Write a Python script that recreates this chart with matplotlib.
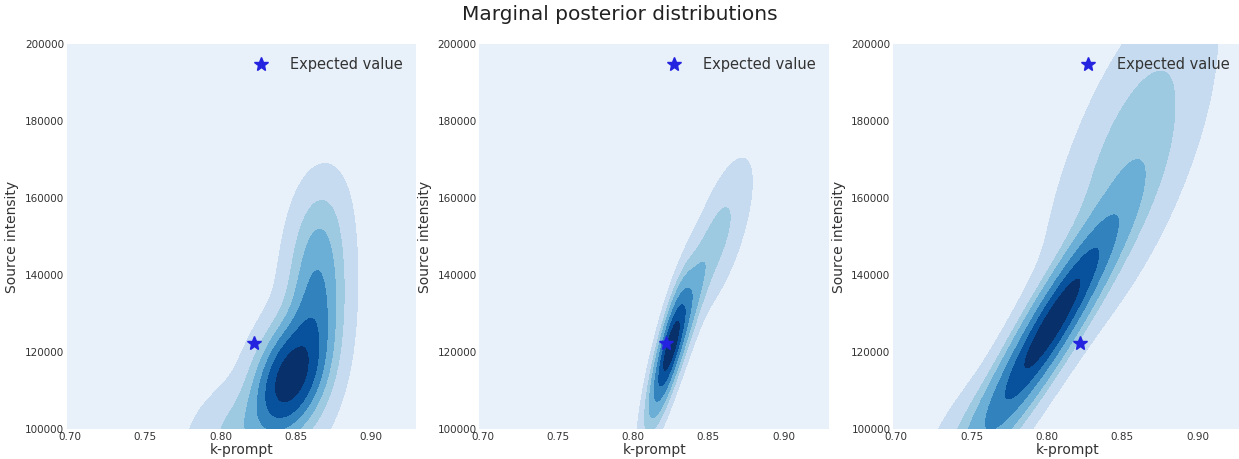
import numpy as np
import matplotlib
matplotlib.use("Agg")
import matplotlib.pyplot as plt

# posterior density, described as a few gaussian blobs per panel
# columns: weight, k mean, S mean, k sd, S sd, correlation
panel1 = [
    [0.48, 0.845, 113000, 0.014, 9000, 0.30],
    [0.32, 0.863, 132000, 0.012, 14000, 0.20],
    [0.12, 0.815, 99000, 0.020, 8000, 0.30],
    [0.04, 0.865, 152000, 0.011, 9000, 0.20],
]
panel2 = [
    [0.52, 0.8245, 121500, 0.0075, 10000, 0.82],
    [0.28, 0.832, 126000, 0.011, 12000, 0.90],
    [0.15, 0.857, 150000, 0.012, 11000, 0.70],
]
panel3 = [
    [0.66, 0.803, 127000, 0.027, 17000, 0.92],
    [0.24, 0.855, 170000, 0.028, 22000, 0.70],
    [0.05, 0.755, 100000, 0.020, 10000, 0.70],
]
panels = [panel1, panel2, panel3]

expected_k = 0.822
expected_s = 122500

# probability mass enclosed by each contour, outer to inner
mass_levels = [0.97, 0.85, 0.70, 0.52, 0.33, 0.14]
band_colors = ['#e8f0f9', '#c6dbef', '#9ecae1', '#6baed6', '#3182bd', '#08519c', '#08306b']


def density(comps, K, S):
    z = np.zeros_like(K)
    for w, mk, ms, sk, ss, r in comps:
        a = (K - mk) / sk
        b = (S - ms) / ss
        q = (a**2 - 2*r*a*b + b**2) / (1 - r**2)
        z += w * np.exp(-0.5*q) / (2*np.pi*sk*ss*np.sqrt(1 - r**2))
    return z


def iso_levels(z, masses):
    zs = np.sort(z.ravel())[::-1]
    cum = np.cumsum(zs) / zs.sum()
    return [zs[np.searchsorted(cum, m)] for m in masses]


fig = plt.figure(figsize=(12.39, 4.59), dpi=100)
lefts = [0.054, 0.387, 0.721]

k = np.linspace(0.60, 1.00, 500)
s = np.linspace(50000, 260000, 500)
K, S = np.meshgrid(k, s)

for i, comps in enumerate(panels):
    ax = fig.add_axes([lefts[i], 0.065, 0.282, 0.839])
    z = density(comps, K, S)
    levels = [-1] + iso_levels(z, mass_levels) + [z.max()*1.01]
    ax.contourf(K, S, z, levels=levels, colors=band_colors)
    ax.plot(expected_k, expected_s, '*', color='#2323e0', markersize=10,
            linestyle='none', label='Expected value')
    ax.set_xlim(0.698, 0.93)
    ax.set_ylim(100000, 200000)
    ax.set_xticks([0.70, 0.75, 0.80, 0.85, 0.90])
    ax.set_xticklabels(['0.70', '0.75', '0.80', '0.85', '0.90'])
    ax.set_yticks([100000, 120000, 140000, 160000, 180000, 200000])
    ax.tick_params(length=0, labelsize=7.5, colors='#333333', pad=2)
    for sp in ax.spines.values():
        sp.set_visible(False)
    ax.set_xlabel('k-prompt', fontsize=10, color='#333333', labelpad=1)
    ax.set_ylabel('Source intensity', fontsize=10, color='#333333', labelpad=4)
    ax.legend(loc='upper right', frameon=False, fontsize=10.5,
              handletextpad=1.0, labelcolor='#333333')

fig.suptitle('Marginal posterior distributions', fontsize=14.5, color='#222222', y=0.99)

fig.savefig('out.png', dpi=100)
